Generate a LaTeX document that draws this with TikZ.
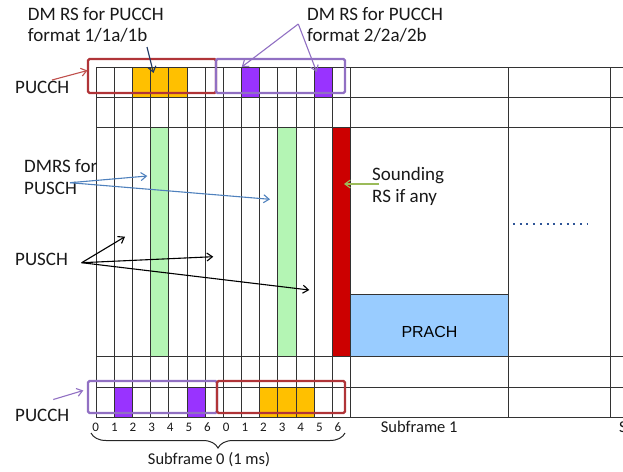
\documentclass[tikz,border=0pt]{standalone}
\usepackage{fontspec}
\setmainfont{Carlito}
\newfontfamily\arialfam{Liberation Sans}
\usetikzlibrary{arrows.meta,decorations.pathreplacing}
\definecolor{cyel}{RGB}{255,192,0}
\definecolor{cpur}{RGB}{153,51,255}
\definecolor{cgrn}{RGB}{180,245,180}
\definecolor{cred}{RGB}{204,0,0}
\definecolor{cprach}{RGB}{153,204,255}
\definecolor{boxred}{RGB}{176,52,56}
\definecolor{boxpur}{RGB}{145,112,195}
\definecolor{arred}{RGB}{192,80,77}
\definecolor{arnavy}{RGB}{31,56,100}
\definecolor{arblue}{RGB}{79,129,189}
\definecolor{argreen}{RGB}{155,187,89}
\definecolor{dotblue}{RGB}{47,85,151}
\begin{document}
\begin{tikzpicture}[x=1pt,y=-1pt,
  gl/.style={draw=black!80, line width=0.9pt},
  lbl/.style={inner sep=0pt, anchor=base west, font=\fontsize{19}{21}\selectfont, text=black!90},
  digit/.style={inner sep=0pt, anchor=base, font=\fontsize{13}{15}\selectfont, text=black!90},
  sublbl/.style={inner sep=0pt, font=\fontsize{16.5}{19}\selectfont, text=black!90},
  arr/.style={-{Straight Barb[length=5.5pt,width=8pt]}, line width=1.1pt},
  grpbox/.style={rounded corners=1.5pt, line width=2.2pt}]
\useasboundingbox (0,0) rectangle (623,471);
\def\cw{18.19}
% fills
\fill[cyel] ({96+2*\cw},67) rectangle ({96+5*\cw},97);
\fill[cpur] ({96+8*\cw},67) rectangle ({96+9*\cw},97);
\fill[cpur] ({96+12*\cw},67) rectangle ({96+13*\cw},97);
\fill[cgrn] ({96+3*\cw},127) rectangle ({96+4*\cw},356);
\fill[cgrn] ({96+10*\cw},127) rectangle ({96+11*\cw},356);
\fill[cred] ({96+13*\cw},127) rectangle ({96+14*\cw},356);
\fill[cprach] ({96+14*\cw},294) rectangle (508,356);
\fill[cpur] ({96+1*\cw},387) rectangle ({96+2*\cw},417);
\fill[cpur] ({96+5*\cw},387) rectangle ({96+6*\cw},417);
\fill[cyel] ({96+9*\cw},387) rectangle ({96+12*\cw},417);
% grid
\foreach \i in {0,...,14} \draw[gl] ({96+\i*\cw},67) -- ({96+\i*\cw},417);
\foreach \yy in {67,97,127,356,387,417} \draw[gl] (96,\yy) -- (623,\yy);
\draw[gl] (508,67) -- (508,417);
\draw[gl] (610,67) -- (610,417);
\draw[gl] ({96+14*\cw},294) -- (508,294);
% group boxes
\draw[grpbox, boxred] (88,59) rectangle (216,93);
\draw[grpbox, boxpur] (216,59) rectangle (345,93);
\draw[grpbox, boxpur] (88,381) rectangle (217,413);
\draw[grpbox, boxred] (217,381) rectangle (345,413);
% labels
\node[lbl] (dma1) at (27.7,20) {DM RS for PUCCH};
\node[lbl] (dma2) at (27.7,41) {format 1/1a/1b};
\node[lbl] (dmb1) at (307,20) {DM RS for PUCCH};
\node[lbl] (dmb2) at (307,41) {format 2/2a/2b};
\node[lbl] (pucchtop) at (15,93) {PUCCH};
\node[lbl] (dmrs1) at (24,172) {DMRS for};
\node[lbl] (dmrs2) at (24,194) {PUSCH};
\node[lbl] (pusch) at (15,265.5) {PUSCH};
\node[lbl] (snd1) at (372,180) {Sounding};
\node[lbl] (snd2) at (372,202.5) {RS if any};
\node[lbl] (pucchbot) at (15,421) {PUCCH};
\node[inner sep=0pt, anchor=base, font=\arialfam\fontsize{16}{18}\selectfont] (prach) at (429.5,337.7) {PRACH};
\node[sublbl, anchor=base west] (sf1) at (380.7,432.5) {Subframe 1};
\node[sublbl, anchor=base west] (sf2) at (619,432.5) {S};
\node[sublbl, anchor=base] (sf0) at (209,464.5) {Subframe 0 (1 ms)};
\foreach \k/\d in {0/0,1/1,2/2,3/3,4/4,5/5,6/6,7/0,8/1,9/2,10/3,11/4,12/5,13/6}
  \node[digit] (dg\k) at ({95.7+\k*18.64},431.7) {\d};
% brace
\draw[decorate, decoration={brace, mirror, amplitude=15pt, aspect=0.5}, line width=1pt, black!85] (91,433) -- (345,433);
% dotted
\coordinate (dotA) at (513,224);
\coordinate (dotB) at (587,224);
\draw[dotblue, line width=2pt, dash pattern=on 2pt off 4.7pt] (dotA) -- (dotB);
% arrow anchor points
\coordinate (pA) at (52,80);
\coordinate (pAt) at (87.5,70.5);
\coordinate (nA) at (147,47);
\coordinate (nAt) at (153.5,73);
\coordinate (uA) at (298.3,24);
\coordinate (uAt1) at (241.7,67);
\coordinate (uAt2) at (316.7,72);
\coordinate (bA) at (70,182.7);
\coordinate (bAt1) at (147.3,176);
\coordinate (bAt2) at (270,199.3);
\coordinate (kA) at (81.7,262.7);
\coordinate (kAt1) at (125,236.7);
\coordinate (kAt2) at (213.3,256.7);
\coordinate (kAt3) at (309.3,290);
\coordinate (gA) at (379,184);
\coordinate (gAt) at (344,184);
\coordinate (qA) at (53.3,399.5);
\coordinate (qAt) at (83.3,390.5);
% arrows
\draw[arr, arred] (pA) -- (pAt);
\draw[arr, arnavy] (nA) -- (nAt);
\draw[arr, boxpur] (uA) -- (uAt1);
\draw[arr, boxpur] (uA) -- (uAt2);
\draw[arr, arblue] (bA) -- (bAt1);
\draw[arr, arblue] (bA) -- (bAt2);
\draw[arr, black] (kA) -- (kAt1);
\draw[arr, black] (kA) -- (kAt2);
\draw[arr, black] (kA) -- (kAt3);
\draw[arr, argreen] (gA) -- (gAt);
\draw[arr, boxpur] (qA) -- (qAt);
\end{tikzpicture}
\end{document}
